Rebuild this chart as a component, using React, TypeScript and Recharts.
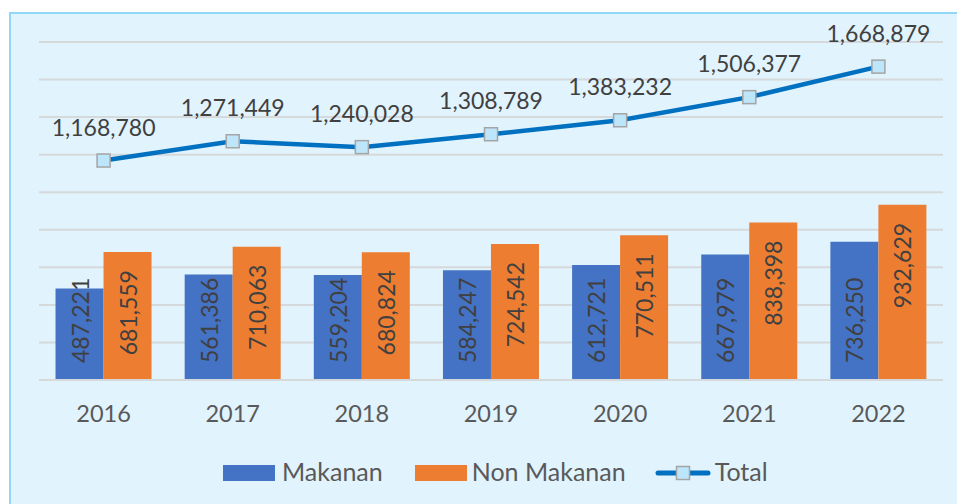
import React from 'react';
import { ComposedChart, Bar, Line, XAxis, YAxis, CartesianGrid, LabelList, Legend } from 'recharts';

const years = ['2016', '2017', '2018', '2019', '2020', '2021', '2022'];
const makanan = [487221, 561386, 559204, 584247, 612721, 667979, 736250];
const nonMakanan = [681559, 710063, 680824, 724542, 770511, 838398, 932629];
const total = [1168780, 1271449, 1240028, 1308789, 1383232, 1506377, 1668879];
const yTicks = [0, 200000, 400000, 600000, 800000, 1000000, 1200000, 1400000, 1600000, 1800000];

const data = years.map((year, i) => ({
  year,
  makanan: makanan[i],
  nonMakanan: nonMakanan[i],
  total: total[i],
}));

const FONT = 'Lato, "Open Sans", sans-serif';
const fmt = (v: number) => Number(v).toLocaleString('en-US');

const BLUE = '#4472C4';
const ORANGE = '#ED7D31';
const LINE = '#0070C0';
const LABEL = '#404040';

// blue labels start from a fixed point above the axis, reading upward
function MakananLabel(props: any) {
  const { x, width, value } = props;
  const cx = x + width / 2;
  const y = 363;
  return (
    <text
      x={cx}
      y={y}
      transform={`rotate(-90 ${cx} ${y})`}
      textAnchor="start"
      dominantBaseline="central"
      fill={LABEL}
      fontSize={23}
      fontFamily={FONT}
    >
      {fmt(value)}
    </text>
  );
}

// orange labels hang from the top of the bar
function NonMakananLabel(props: any) {
  const { x, y, width, value } = props;
  const cx = x + width / 2;
  const ty = y + 18;
  return (
    <text
      x={cx}
      y={ty}
      transform={`rotate(-90 ${cx} ${ty})`}
      textAnchor="end"
      dominantBaseline="central"
      fill={LABEL}
      fontSize={23}
      fontFamily={FONT}
    >
      {fmt(value)}
    </text>
  );
}

function TotalLabel(props: any) {
  const { x, y, value } = props;
  return (
    <text x={x} y={y - 25} textAnchor="middle" fill={LABEL} fontSize={23} fontFamily={FONT}>
      {fmt(value)}
    </text>
  );
}

function SquareDot(props: any) {
  const { cx, cy, index } = props;
  return (
    <rect
      key={`dot-${index}`}
      x={cx - 6.5}
      y={cy - 6.5}
      width={13}
      height={13}
      fill="#BDE6FB"
      stroke="#A5A5A5"
      strokeWidth={1.5}
    />
  );
}

function YearTick(props: any) {
  const { x, payload } = props;
  return (
    <text x={x} y={422} textAnchor="middle" fill="#595959" fontSize={23.5} fontFamily={FONT}>
      {payload.value}
    </text>
  );
}

function ChartLegend() {
  const item = { display: 'flex', alignItems: 'center', fontSize: 25, color: '#595959', lineHeight: '30px' } as const;
  return (
    <div style={{ display: 'flex', alignItems: 'center', fontFamily: FONT, paddingLeft: 223 }}>
      <div style={item}>
        <span style={{ width: 52, height: 16, background: BLUE, marginRight: 7, marginTop: 4 }} />
        Makanan
      </div>
      <div style={{ ...item, marginLeft: 32 }}>
        <span style={{ width: 52, height: 16, background: ORANGE, marginRight: 5, marginTop: 4 }} />
        Non Makanan
      </div>
      <div style={{ ...item, marginLeft: 29 }}>
        <svg width={56} height={18} style={{ marginRight: 4, marginTop: 4 }}>
          <line x1={3} y1={9} x2={53} y2={9} stroke={LINE} strokeWidth={5} strokeLinecap="round" />
          <rect x={21.5} y={2.5} width={13} height={13} fill="#BDE6FB" stroke="#A5A5A5" strokeWidth={1.5} />
        </svg>
        Total
      </div>
    </div>
  );
}

export default function App() {
  return (
    <div style={{ position: 'absolute', left: 0, top: 0, width: 957, height: 504, overflow: 'hidden', background: '#fff' }}>
      <div
        style={{
          position: 'absolute',
          left: 9,
          top: 12,
          width: 960,
          height: 500,
          background: '#E1F3FD',
          border: '2px solid #8FD8F7',
        }}
      />
      <div style={{ position: 'absolute', left: 0, top: 0 }}>
        <ComposedChart
          width={957}
          height={504}
          data={data}
          margin={{ top: 42, right: 14, bottom: 84, left: 39 }}
          barCategoryGap="12.8%"
          barGap={0}
        >
          <CartesianGrid vertical={false} stroke="#D6D9DB" strokeWidth={2} />
          <XAxis
            dataKey="year"
            axisLine={{ stroke: '#D6D9DB', strokeWidth: 2 }}
            tickLine={false}
            tick={<YearTick />}
            height={40}
            interval={0}
          />
          <YAxis hide domain={[0, 1800000]} ticks={yTicks} width={0} />
          <Legend
            layout="vertical"
            verticalAlign="middle"
            align="center"
            wrapperStyle={{ top: 456, left: 0, width: 957 }}
            content={<ChartLegend />}
          />
          <Bar dataKey="makanan" name="Makanan" fill={BLUE} isAnimationActive={false}>
            <LabelList dataKey="makanan" content={<MakananLabel />} />
          </Bar>
          <Bar dataKey="nonMakanan" name="Non Makanan" fill={ORANGE} isAnimationActive={false}>
            <LabelList dataKey="nonMakanan" content={<NonMakananLabel />} />
          </Bar>
          <Line
            dataKey="total"
            name="Total"
            stroke={LINE}
            strokeWidth={4.5}
            dot={<SquareDot />}
            activeDot={false}
            isAnimationActive={false}
          >
            <LabelList dataKey="total" content={<TotalLabel />} />
          </Line>
        </ComposedChart>
      </div>
    </div>
  );
}
